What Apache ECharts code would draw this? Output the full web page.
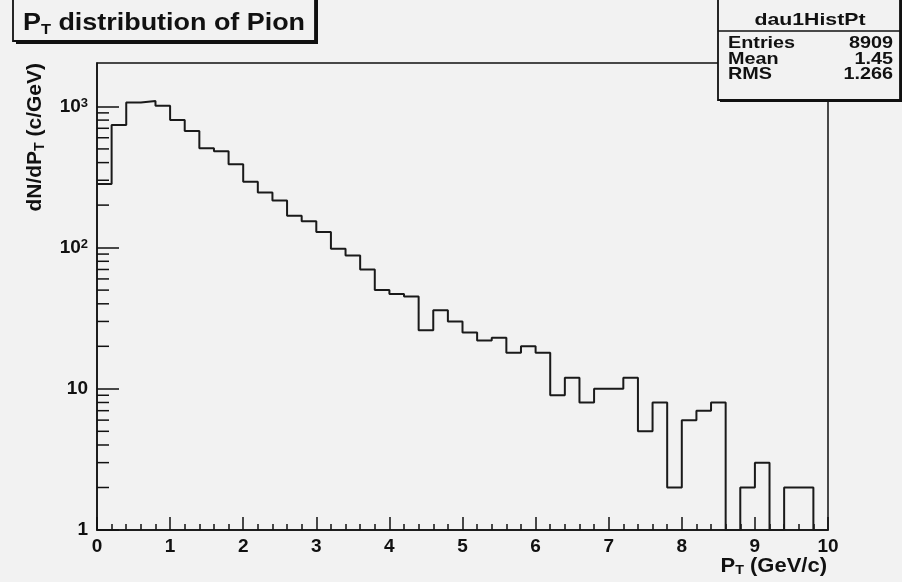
<!DOCTYPE html>
<html>
<head>
<meta charset="utf-8">
<title>PT distribution of Pion</title>
<script src="https://cdn.jsdelivr.net/npm/echarts@6/dist/echarts.min.js"></script>
<style>
  html, body { margin: 0; padding: 0; background: #f2f2f2; }
  #chart { width: 902px; height: 582px; }
</style>
</head>
<body>
<div id="chart"></div>
<script>
// Histogram dau1HistPt: 50 bins of 0.2 GeV/c from 0 to 10
const binLowEdges = [
  0.0, 0.2, 0.4, 0.6, 0.8, 1.0, 1.2, 1.4, 1.6, 1.8,
  2.0, 2.2, 2.4, 2.6, 2.8, 3.0, 3.2, 3.4, 3.6, 3.8,
  4.0, 4.2, 4.4, 4.6, 4.8, 5.0, 5.2, 5.4, 5.6, 5.8,
  6.0, 6.2, 6.4, 6.6, 6.8, 7.0, 7.2, 7.4, 7.6, 7.8,
  8.0, 8.2, 8.4, 8.6, 8.8, 9.0, 9.2, 9.4, 9.6, 9.8
];
const binCounts = [
  282, 740, 1064, 1094, 1009, 802, 671, 505, 481, 389,
  293, 246, 216, 168, 154, 129, 98, 88, 70, 50,
  47, 45, 26, 36, 30, 25, 22, 23, 18, 20,
  18, 9, 12, 8, 10, 10, 12, 5, 8, 2,
  6, 7, 8, 0, 2, 3, 0, 2, 2, 0
];
const xRangeMax = 10;
const yMin = 1;
const yMax = 2030;
const xTickLabels = ['0', '1', '2', '3', '4', '5', '6', '7', '8', '9', '10'];
const yMinorTicks = [2, 3, 4, 5, 6, 7, 8, 9, 20, 30, 40, 50, 60, 70, 80, 90,
                     200, 300, 400, 500, 600, 700, 800, 900];
const statsTitle = 'dau1HistPt';
const statsNames = ['Entries', 'Mean', 'RMS'];
const statsValues = ['8909', '1.45', '1.266'];

const FONT = '"Liberation Sans", Arial, Helvetica, sans-serif';
const INK = '#111';
const BG = '#f2f2f2';

// Step outline: each bin starts at its low edge, the last level runs to the end of the range.
// Empty bins drop to the bottom of the log axis.
const stepData = binLowEdges.map((x, i) => [x, Math.max(binCounts[i], yMin)]);
stepData.push([xRangeMax, Math.max(binCounts[binCounts.length - 1], yMin)]);

function yLabel(v) {
  const e = Math.round(Math.log10(v));
  if (Math.abs(Math.log10(v) - e) > 1e-6) return '';
  if (e === 0) return '{b|1}';
  if (e === 1) return '{b|10}';
  return '{b|10}{s|' + e + '}';
}

function richPair(size, subSize, lh) {
  return {
    a: { fontFamily: FONT, fontWeight: 'bold', fontSize: size, fill: INK, lineHeight: lh },
    t: { fontFamily: FONT, fontWeight: 'bold', fontSize: subSize, fill: INK, lineHeight: subSize, verticalAlign: 'bottom' }
  };
}

const chart = echarts.init(document.getElementById('chart'), null, { renderer: 'canvas' });

// Stats box pieces
const statsLeft = 718, statsRight = 900, statsBottom = 100, statsSep = 31;
const statsRowY = [43, 59, 74];
const statsStretch = 1.2;
const statsGraphics = [
  { type: 'rect', z: 100, shape: { x: statsLeft + 2, y: -4, width: statsRight - statsLeft, height: statsBottom + 6 },
    style: { fill: INK } },
  { type: 'rect', z: 101, shape: { x: statsLeft, y: -4, width: statsRight - statsLeft, height: statsBottom + 4 },
    style: { fill: BG, stroke: INK, lineWidth: 1.8 } },
  { type: 'line', z: 102, shape: { x1: statsLeft, y1: statsSep, x2: statsRight, y2: statsSep },
    style: { stroke: INK, lineWidth: 1.5 } },
  { type: 'text', z: 103, x: (statsLeft + statsRight) / 2 + 1, y: 20, scaleX: 1.25,
    style: { text: statsTitle, font: 'bold 17px ' + FONT, fill: INK, align: 'center', verticalAlign: 'middle' } }
];
statsNames.forEach((name, i) => {
  statsGraphics.push({ type: 'text', z: 103, x: statsLeft + 10, y: statsRowY[i], scaleX: statsStretch,
    style: { text: name, font: 'bold 16.5px ' + FONT, fill: INK, align: 'left', verticalAlign: 'middle' } });
  statsGraphics.push({ type: 'text', z: 103, x: statsRight - 7, y: statsRowY[i], scaleX: statsStretch,
    style: { text: statsValues[i], font: 'bold 16.5px ' + FONT, fill: INK, align: 'right', verticalAlign: 'middle' } });
});

const option = {
  animation: false,
  backgroundColor: BG,
  grid: {
    left: 97, right: 74, top: 63, bottom: 52,
    show: true, borderColor: INK, borderWidth: 1.5, backgroundColor: BG
  },
  xAxis: {
    type: 'value',
    min: 0, max: xRangeMax, interval: 1,
    axisLine: { show: true, lineStyle: { color: INK, width: 1.5 } },
    axisTick: { show: true, inside: true, length: 13, lineStyle: { color: INK, width: 1.5 } },
    minorTick: { show: true, splitNumber: 5, length: 6, lineStyle: { color: INK, width: 1.5 } },
    splitLine: { show: false },
    axisLabel: {
      margin: 7,
      fontFamily: FONT, fontWeight: 'bold', fontSize: 19, color: INK,
      formatter: v => xTickLabels[Math.round(v)] || ''
    }
  },
  yAxis: {
    type: 'log', logBase: 10,
    min: yMin, max: yMax,
    axisLine: { show: true, lineStyle: { color: INK, width: 1.5 } },
    axisTick: { show: true, inside: true, length: 22, lineStyle: { color: INK, width: 1.5 } },
    splitLine: { show: false },
    axisLabel: {
      margin: 9,
      showMaxLabel: false,
      formatter: yLabel,
      rich: {
        b: { fontFamily: FONT, fontWeight: 'bold', fontSize: 19, color: INK, lineHeight: 19 },
        s: { fontFamily: FONT, fontWeight: 'bold', fontSize: 13, color: INK, lineHeight: 13, verticalAlign: 'top' }
      }
    }
  },
  series: [
    {
      // minor ticks of the log axis at 2..9 of every decade
      type: 'custom',
      coordinateSystem: 'cartesian2d',
      silent: true,
      z: 3,
      data: yMinorTicks.map(v => [0, v]),
      renderItem: (params, api) => {
        const p = api.coord([0, api.value(1)]);
        return {
          type: 'line',
          shape: { x1: p[0], y1: p[1], x2: p[0] + 12, y2: p[1] },
          style: { stroke: INK, lineWidth: 1.5 }
        };
      }
    },
    {
      name: statsTitle,
      type: 'line',
      step: 'end',
      data: stepData,
      symbol: 'none',
      z: 4,
      lineStyle: { color: '#1a1a1a', width: 2 }
    }
  ],
  graphic: [
    // y-axis title, read bottom to top, ending at the top of the frame
    { type: 'text', z: 100, x: 35, y: 63, rotation: Math.PI / 2,
      style: { text: '{a|dN/dP}{t|T}{a| (c/GeV)}', align: 'right', verticalAlign: 'middle', rich: richPair(21, 14, 24) } },
    // x-axis title, right-aligned under the end of the axis
    { type: 'text', z: 100, x: 827, y: 566, scaleX: 1.1,
      style: { text: '{a|P}{t|T}{a| (GeV/c)}', align: 'right', verticalAlign: 'middle', rich: richPair(20, 13, 22) } },
    // title box with shadow
    { type: 'rect', z: 100, shape: { x: 16, y: -4, width: 302, height: 48 }, style: { fill: INK } },
    { type: 'rect', z: 101, shape: { x: 13, y: -4, width: 302, height: 45 },
      style: { fill: BG, stroke: INK, lineWidth: 1.8 } },
    { type: 'text', z: 102, x: 23, y: 24, scaleX: 1.17,
      style: { text: '{a|P}{t|T}{a| distribution of Pion}', align: 'left', verticalAlign: 'middle', rich: richPair(23, 14, 26) } }
  ].concat(statsGraphics)
};

chart.setOption(option);
</script>
</body>
</html>
